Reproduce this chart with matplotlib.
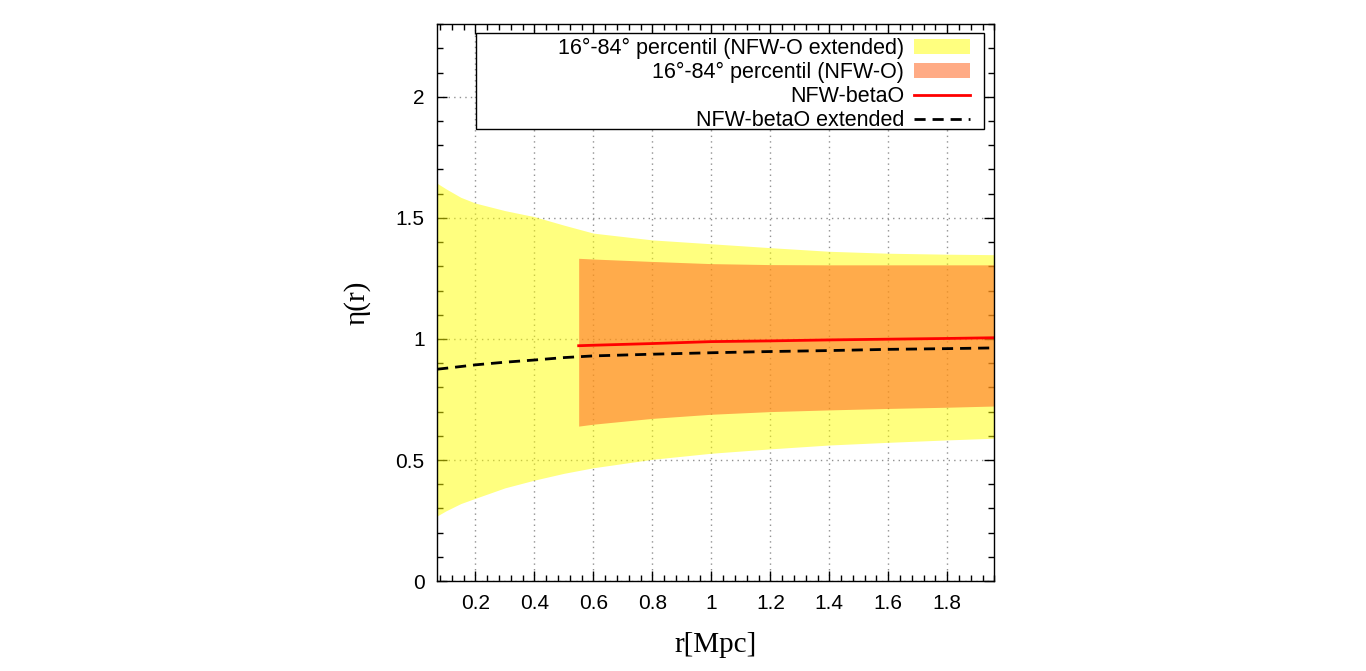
import matplotlib

matplotlib.use("Agg")
import matplotlib.pyplot as plt
from matplotlib.patches import Patch, Rectangle
from matplotlib.lines import Line2D
from matplotlib.ticker import MultipleLocator

# extended run (NFW-O extended), r in Mpc
r_ext = [0.07, 0.10, 0.15, 0.20, 0.30, 0.40, 0.50, 0.60, 0.80, 1.00, 1.20, 1.40, 1.60, 1.80, 1.96]
ext_hi = [1.643, 1.620, 1.585, 1.561, 1.530, 1.505, 1.470, 1.437, 1.409, 1.393, 1.377, 1.362, 1.354, 1.350, 1.348]
ext_lo = [0.269, 0.290, 0.320, 0.342, 0.385, 0.417, 0.445, 0.468, 0.503, 0.528, 0.546, 0.562, 0.573, 0.583, 0.590]
beta_ext = [0.875, 0.879, 0.886, 0.893, 0.904, 0.913, 0.923, 0.930, 0.937, 0.943, 0.948, 0.952, 0.957, 0.960, 0.963]

# standard run (NFW-O)
r_std = [0.55, 0.60, 0.80, 1.00, 1.20, 1.40, 1.60, 1.80, 1.96]
std_hi = [1.333, 1.330, 1.320, 1.311, 1.307, 1.306, 1.306, 1.306, 1.306]
std_lo = [0.640, 0.648, 0.672, 0.689, 0.700, 0.707, 0.713, 0.718, 0.723]
beta_std = [0.972, 0.974, 0.981, 0.989, 0.992, 0.996, 0.999, 1.002, 1.005]

labels = [
    "16°-84° percentil (NFW-O extended)",
    "16°-84° percentil (NFW-O)",
    "NFW-betaO",
    "NFW-betaO extended",
]

plt.rcParams["font.family"] = ["Liberation Sans", "DejaVu Sans"]

fig = plt.figure(figsize=(13.66, 6.71), dpi=100)
ax = fig.add_axes([0.320, 0.134, 0.408, 0.830])

yellow = (1.0, 1.0, 0.0, 0.5)
orange = (1.0, 0.40, 0.13, 0.55)

ax.fill_between(r_ext, ext_lo, ext_hi, color=yellow, lw=0, zorder=3)
ax.fill_between(r_std, std_lo, std_hi, color=orange, lw=0, zorder=3)
ax.plot(r_std, beta_std, color="#ff0000", lw=2, zorder=4)
ax.plot(r_ext, beta_ext, color="black", lw=2, dashes=(4, 2.5), zorder=4)

ax.set_xlim(0.07, 1.96)
ax.set_ylim(0, 2.3)
ax.xaxis.set_minor_locator(MultipleLocator(0.04))
ax.yaxis.set_minor_locator(MultipleLocator(0.1))
ax.set_xticks([0.2, 0.4, 0.6, 0.8, 1.0, 1.2, 1.4, 1.6, 1.8])
ax.set_xticklabels(["0.2", "0.4", "0.6", "0.8", "1", "1.2", "1.4", "1.6", "1.8"])
ax.set_yticks([0, 0.5, 1, 1.5, 2])
ax.set_yticklabels(["0", "0.5", "1", "1.5", "2"])
ax.tick_params(which="both", direction="in", top=True, right=True, labelsize=15, color="black")
ax.tick_params(which="major", length=7, width=1, pad=9)
ax.tick_params(which="minor", length=4.5, width=1)
ax.grid(True, which="major", linestyle=(0, (1, 3)), color="#909090", lw=1)
ax.set_axisbelow(True)
for s in ax.spines.values():
    s.set_linewidth(1)
    s.set_zorder(5)

ax.set_xlabel("r[Mpc]", family="Liberation Serif", fontsize=21, labelpad=14)
ax.set_ylabel("η(r)", family=["Liberation Serif", "DejaVu Sans"], fontsize=21, labelpad=18)

# gnuplot-style key: boxed, text right-aligned with the sample after it
ax.add_patch(Rectangle((0.0695, 0.812), 0.912, 0.172, transform=ax.transAxes,
                       facecolor="white", edgecolor="black", lw=1, zorder=6))
handles = [
    Patch(facecolor=yellow, edgecolor="none"),
    Patch(facecolor=orange, edgecolor="none"),
    Line2D([], [], color="#ff0000", lw=2),
    Line2D([], [], color="black", lw=2, dashes=(4, 2.5)),
]
leg = ax.legend(handles, labels, loc="upper right", bbox_to_anchor=(0.956, 0.975),
                markerfirst=False, fontsize=15.5, frameon=False, borderpad=0,
                labelspacing=0.14, handlelength=2.6, handletextpad=0.45, borderaxespad=0)
leg.set_zorder(7)
for col in leg._legend_handle_box.get_children():
    col.align = "right"

fig.savefig("out.png", dpi=100)
